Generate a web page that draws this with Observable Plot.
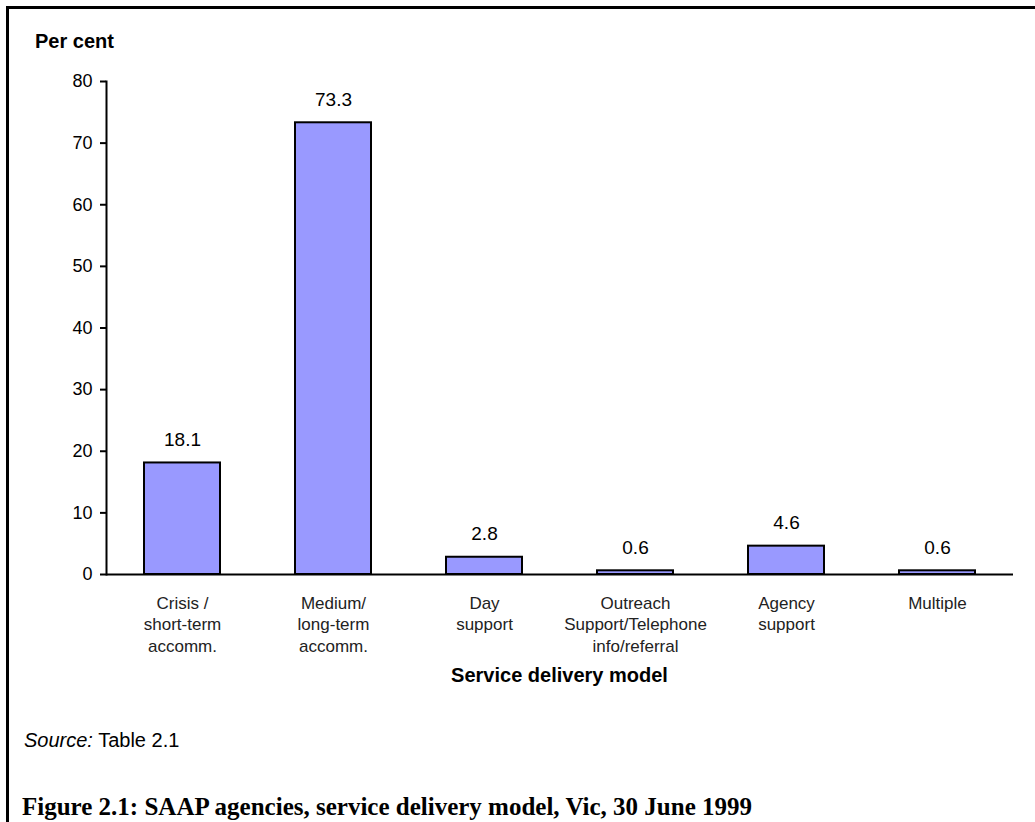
<!DOCTYPE html>
<html>
<head>
<meta charset="utf-8">
<script src="https://cdn.jsdelivr.net/npm/d3@7"></script>
<script src="https://cdn.jsdelivr.net/npm/@observablehq/plot@0.6"></script>
<style>
  html, body { margin: 0; padding: 0; background: #fff; }
  body { width: 1035px; height: 822px; overflow: hidden; position: relative; font-family: 'Liberation Sans', Arial, sans-serif; color: #000; }
  #frame { position: absolute; left: 6px; top: 6px; width: 1200px; height: 1000px; border-left: 3px solid #000; border-top: 3px solid #000; }
  #chart { position: absolute; left: 0; top: 0; }
  .txt { position: absolute; white-space: nowrap; line-height: 1; }
  #ylab { left: 35px; top: 31px; font-size: 20px; font-weight: bold; }
  #xlab { left: 559.5px; top: 665px; transform: translateX(-50%); font-size: 20px; font-weight: bold; }
  #source { left: 24px; top: 730px; font-size: 20px; }
  #title { left: 22px; top: 794px; font-family: 'Liberation Serif', 'Times New Roman', serif; font-size: 25px; font-weight: bold; }
</style>
</head>
<body>
<div id="frame"></div>
<div id="chart"></div>
<div class="txt" id="ylab">Per cent</div>
<div class="txt" id="xlab">Service delivery model</div>
<div class="txt" id="source"><i>Source:</i> Table 2.1</div>
<div class="txt" id="title">Figure 2.1: SAAP agencies, service delivery model, Vic, 30 June 1999</div>
<script>
const categories = ["Crisis/short-term", "Medium/long-term", "Day support", "Outreach", "Agency support", "Multiple"];
const tickLabels = ["Crisis /\nshort-term\naccomm.", "Medium/\nlong-term\naccomm.", "Day\nsupport", "Outreach\nSupport/Telephone\ninfo/referral", "Agency\nsupport", "Multiple"];
const values = [18.1, 73.3, 2.8, 0.6, 4.6, 0.6];
const yTicks = [0, 10, 20, 30, 40, 50, 60, 70, 80];

const data = categories.map((c, i) => ({cat: c, value: values[i], label: tickLabels[i]}));

const chart = Plot.plot({
  width: 1035,
  height: 700,
  marginTop: 81,
  marginBottom: 126,
  marginLeft: 106,
  marginRight: 22,
  style: {fontFamily: "'Liberation Sans', Arial, sans-serif", background: "transparent", color: "#000", overflow: "visible"},
  x: {domain: categories, paddingInner: 0.5, paddingOuter: 0.25, axis: null},
  y: {domain: [0, 80], axis: null},
  marks: [
    Plot.barY(data, {x: "cat", y: "value", fill: "#9999ff", stroke: "#000", strokeWidth: 2}),
    Plot.ruleY([0], {stroke: "#000", strokeWidth: 2}),
    Plot.frame({anchor: "left", stroke: "#000", strokeWidth: 2}),
    Plot.axisY({ticks: yTicks, tickSize: 6, tickPadding: 8, fontSize: 18, tickFormat: d => String(d), label: null, strokeWidth: 2}),
    Plot.text(data, {x: "cat", frameAnchor: "bottom", text: "label", lineAnchor: "top", dy: 19, lineHeight: 1.26, fontSize: 17, fill: "#222"}),
    Plot.text(data, {x: "cat", y: "value", text: d => d.value.toFixed(1), lineAnchor: "bottom", dy: -17, fontSize: 19, fill: "#000"})
  ]
});
document.getElementById("chart").appendChild(chart);
</script>
</body>
</html>
